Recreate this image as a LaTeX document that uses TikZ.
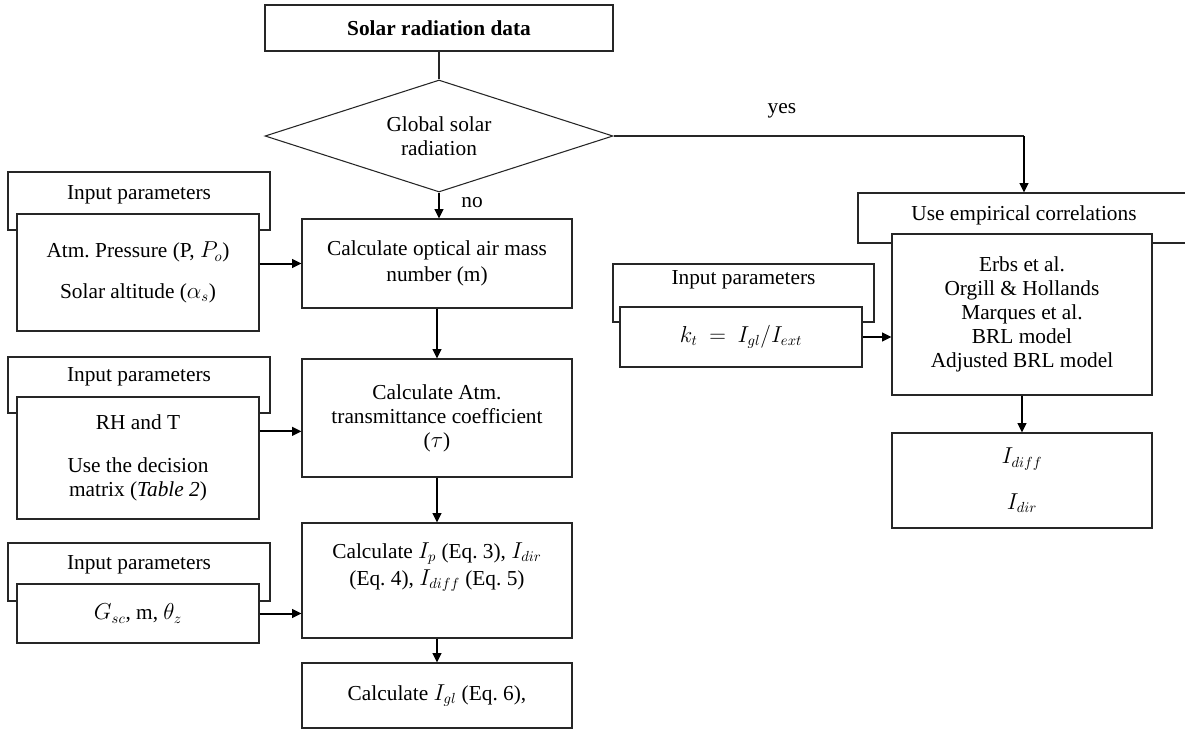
\documentclass[tikz,border=0pt]{standalone}
\usepackage{fontspec}
\setmainfont{Liberation Serif}
\usetikzlibrary{arrows.meta, positioning, shapes.geometric}
\frenchspacing

\begin{document}
\begin{tikzpicture}[
    x=0.75pt, y=-0.75pt,
    font=\fontsize{16}{18}\selectfont,
    box/.style={rectangle, draw=black!85, line width=0.8pt, fill=white, inner sep=0pt, align=center},
    sz/.style 2 args={minimum width=#1*0.75pt, minimum height=#2*0.75pt},
    cond/.style={diamond, draw=black!85, line width=0.8pt, aspect=3, inner sep=0pt, align=center},
    txt/.style={inner sep=0pt, align=center},
    link/.style={draw=black!85, line width=0.8pt},
    arr/.style={-{Triangle[length=7pt, width=6.5pt]}, line width=1.5pt},
]
    \useasboundingbox (0,0) rectangle (1185,729);

    % Main branch
    \node[box, sz={348}{46}] (data) at (439,28) {\bfseries Solar radiation data};
    \node[cond, sz={348}{112}] (glob) at (439,136) {Global solar\\radiation};
    \node[box, sz={270}{89}] (calc1) at (437,263.5) {Calculate optical air mass\\[2pt]number (m)};
    \node[box, sz={270}{118}] (calc2) at (437,418) {Calculate Atm.\\transmittance coefficient\\($\tau$)};
    \node[box, sz={270}{115}] (calc3) at (437,580.5) {};
    \node[txt] (calc3t) at (437,567) {Calculate $I_p$ (Eq.~3), $I_{dir}$\\[2pt](Eq.~4), $I_{diff}$ (Eq.~5)};
    \node[box, sz={270}{65}] (calc4) at (437,695.5) {Calculate $I_{gl}$ (Eq.~6),};

    % Inputs, left column
    \node[box, sz={262}{58}] (in1h) at (139,201) {};
    \node[txt] (in1ht) at (139,195) {Input parameters};
    \node[box, sz={242}{117}] (in1) at (138,272.5) {Atm. Pressure (P, $P_o$)\\[12.5pt]Solar altitude ($\alpha_s$)};

    \node[box, sz={262}{56}] (in2h) at (139,385) {};
    \node[txt] (in2ht) at (139,377) {Input parameters};
    \node[box, sz={242}{122}] (in2) at (138,458) {RH and T\\[14pt]Use the decision\\matrix (\textit{Table 2})};

    \node[box, sz={262}{58}] (in3h) at (139,572) {};
    \node[txt] (in3ht) at (139,565) {Input parameters};
    \node[box, sz={242}{59}] (in3) at (138,613.5) {$G_{sc}$, m, $\theta_z$};

    % Empirical branch
    \node[box, sz={332}{50}] (emph) at (1024,218) {};
    \node[txt] (empht) at (1024,215) {Use empirical correlations};
    \node[box, sz={260}{161}] (emp) at (1022,314.5) {Erbs et al.\\Orgill \& Hollands\\Marques et al.\\BRL model\\Adjusted BRL model};
    \node[box, sz={260}{95}] (res) at (1022,480.5) {$I_{diff}$\\[16pt]$I_{dir}$};

    \node[box, sz={261}{58}] (ingh) at (743.5,293) {};
    \node[txt] (inght) at (743.5,280) {Input parameters};
    \node[box, sz={242}{60}] (ing) at (741,337) {$k_t\ =\ I_{gl}/I_{ext}$};

    % Connectors
    \draw[link] (data.south) -- (glob.north);
    \draw[arr] (glob.south) -- node[txt, pos=0.37, right=16pt] (nolbl) {no} (glob.south |- calc1.north);
    \coordinate (turn) at (glob.east -| emph.north);
    \draw[link] (glob.east) -- node[txt, pos=0.41, above=13pt] (yeslbl) {yes} (turn);
    \draw[arr] (turn) -- (emph.north);

    \draw[arr] (calc1.south) -- (calc2.north);
    \draw[arr] (calc2.south) -- (calc3.north);
    \draw[arr] (calc3.south) -- (calc4.north);

    \draw[arr] (in1.east |- calc1) -- (calc1.west);
    \coordinate (a2) at ([yshift=20pt]in2.east);
    \draw[arr] (a2) -- (a2 -| calc2.west);
    \draw[arr] (in3.east) -- (in3.east -| calc3.west);

    \draw[arr] (ing.east) -- (ing.east -| emp.west);
    \draw[arr] (emp.south) -- (res.north);
\end{tikzpicture}
\end{document}
